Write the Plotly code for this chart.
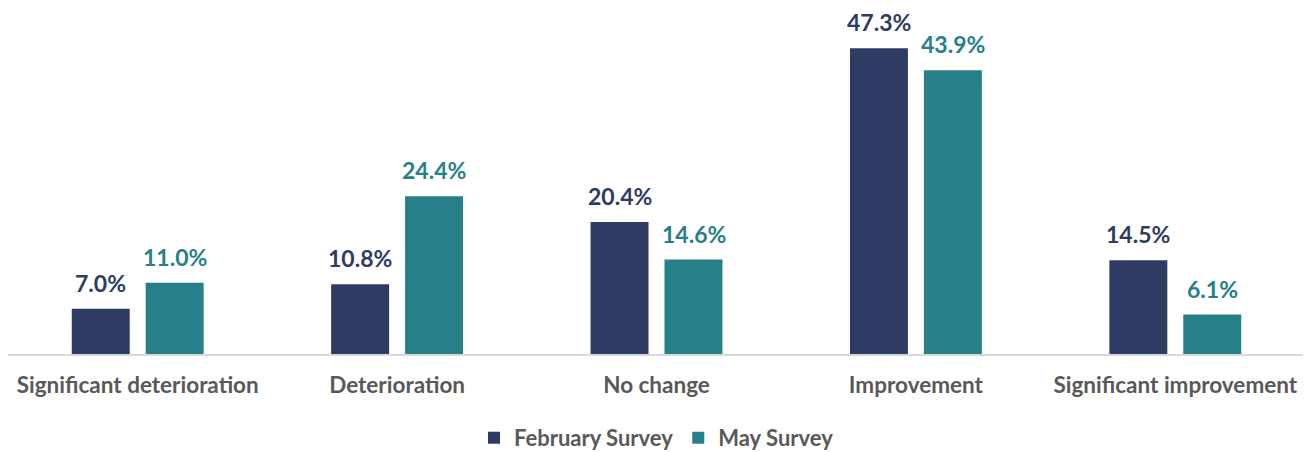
import plotly.graph_objects as go

categories = ["Significant deterioration", "Deterioration", "No change", "Improvement", "Significant improvement"]
feb_values = [7.0, 10.8, 20.4, 47.3, 14.5]
may_values = [11.0, 24.4, 14.6, 43.9, 6.1]
series_names = ["February Survey", "May Survey"]

navy = "#2E3C63"
teal = "#26808A"

fig = go.Figure()
series = [(series_names[0], feb_values, navy, -37), (series_names[1], may_values, teal, 37)]
for name, vals, col, dx in series:
    fig.add_trace(go.Bar(
        x=categories, y=vals, name=name,
        marker=dict(color=col, line=dict(width=0)),
    ))
    for c, v in zip(categories, vals):
        fig.add_annotation(
            x=c, y=v, xref="x", yref="y", text=f"{v:.1f}%", showarrow=False,
            xshift=dx, yshift=10, yanchor="bottom", xanchor="center",
            font=dict(family="Lato", size=23, color=col, weight="bold"),
        )

fig.update_layout(
    width=1311, height=452,
    margin=dict(l=0, r=14, t=2, b=106, autoexpand=False),
    paper_bgcolor="white", plot_bgcolor="white",
    barmode="group", bargap=0.43, bargroupgap=0.216,
    font=dict(family="Lato", color="#595959"),
    xaxis=dict(showline=True, linecolor="#D9D9D9", linewidth=1.5, ticks="",
               automargin=False, ticklabelstandoff=10,
               tickfont=dict(family="Lato", size=22.5, color="#595959", weight="bold")),
    yaxis=dict(range=[0, 53.2], visible=False, showgrid=False),
    legend=dict(orientation="h", x=0.5, xanchor="center", y=-0.244, yanchor="middle",
                font=dict(family="Lato", size=22, color="#595959", weight="bold"),
                itemwidth=30, traceorder="normal"),
    showlegend=True,
)

fig.write_html("out.html")
